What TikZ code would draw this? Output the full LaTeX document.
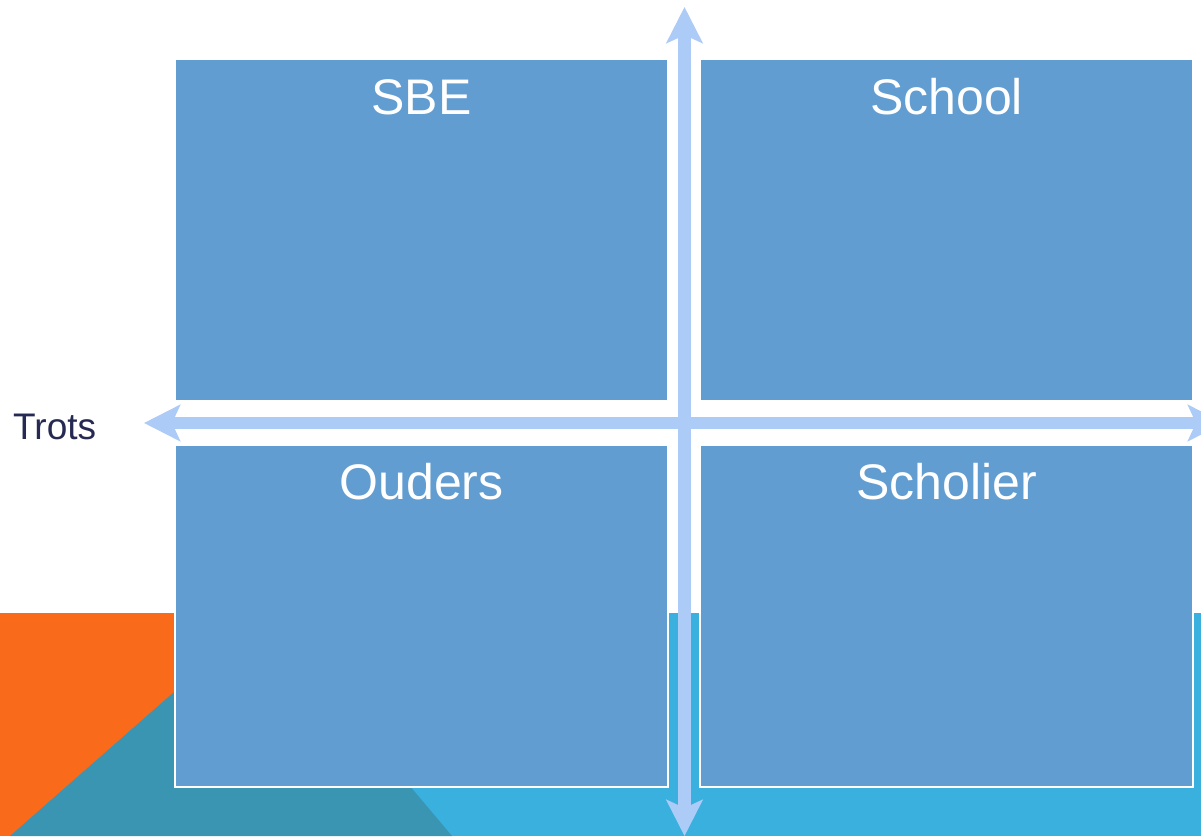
\documentclass[tikz,border=0pt]{standalone}
\usepackage{fontspec}
\setmainfont{Liberation Sans}
\usetikzlibrary{arrows.meta,calc}
\definecolor{boxblue}{HTML}{629DD1}
\definecolor{arrowblue}{HTML}{ADCBF7}
\definecolor{orangebg}{HTML}{F96A1B}
\definecolor{tealbg}{HTML}{3995B2}
\definecolor{skybg}{HTML}{3AB0DE}
\definecolor{navytext}{HTML}{262A53}
\tikzset{
  quad/.style={draw=white, line width=2pt, fill=boxblue, inner sep=0pt, minimum width=493pt, minimum height=342pt},
  quadlabel/.style={anchor=base, text=white, inner sep=0pt, font=\fontsize{50}{60}\selectfont},
  axis/.style={draw=arrowblue, line width=12.5pt, {Stealth[length=36pt,width=36pt,inset=8pt,fill=arrowblue]}-{Stealth[length=36pt,width=36pt,inset=8pt,fill=arrowblue]}}
}
\begin{document}
\begin{tikzpicture}[x=1pt,y=-1pt]
\useasboundingbox (0,0) rectangle (1201,836);
\fill[white] (0,0) rectangle (1201,836);
% background band
\fill[orangebg] (0,613) rectangle (266,836);
\fill[skybg] (262,613) rectangle (1201,836);
\fill[tealbg] (10,836) -- (264,613) -- (452,836) -- cycle;
% quadrants
\node[quad] (sbe) at (421.5,230) {};
\node[quad] (school) at (946.5,230) {};
\node[quad] (ouders) at (421.5,616) {};
\node[quad] (scholier) at (946.5,616) {};
\node[quadlabel] (lsbe) at ($(sbe.north)+(0,56)$) {SBE};
\node[quadlabel] (lschool) at ($(school.north)+(0,56)$) {School};
\node[quadlabel] (louders) at ($(ouders.north)+(0,55)$) {Ouders};
\node[quadlabel] (lscholier) at ($(scholier.north)+(0,55)$) {Scholier};
% axes
\coordinate (vtop) at (684.5,7);
\coordinate (vbot) at (684.5,836);
\coordinate (hleft) at (144,423);
\coordinate (hright) at (1224,423);
\draw[axis] (vbot) -- (vtop);
\draw[axis] (hleft) -- (hright);
\node[anchor=base west, inner sep=0pt, text=navytext, font=\fontsize{37}{44}\selectfont] (trots) at (13,439) {Trots};
\end{tikzpicture}
\end{document}
